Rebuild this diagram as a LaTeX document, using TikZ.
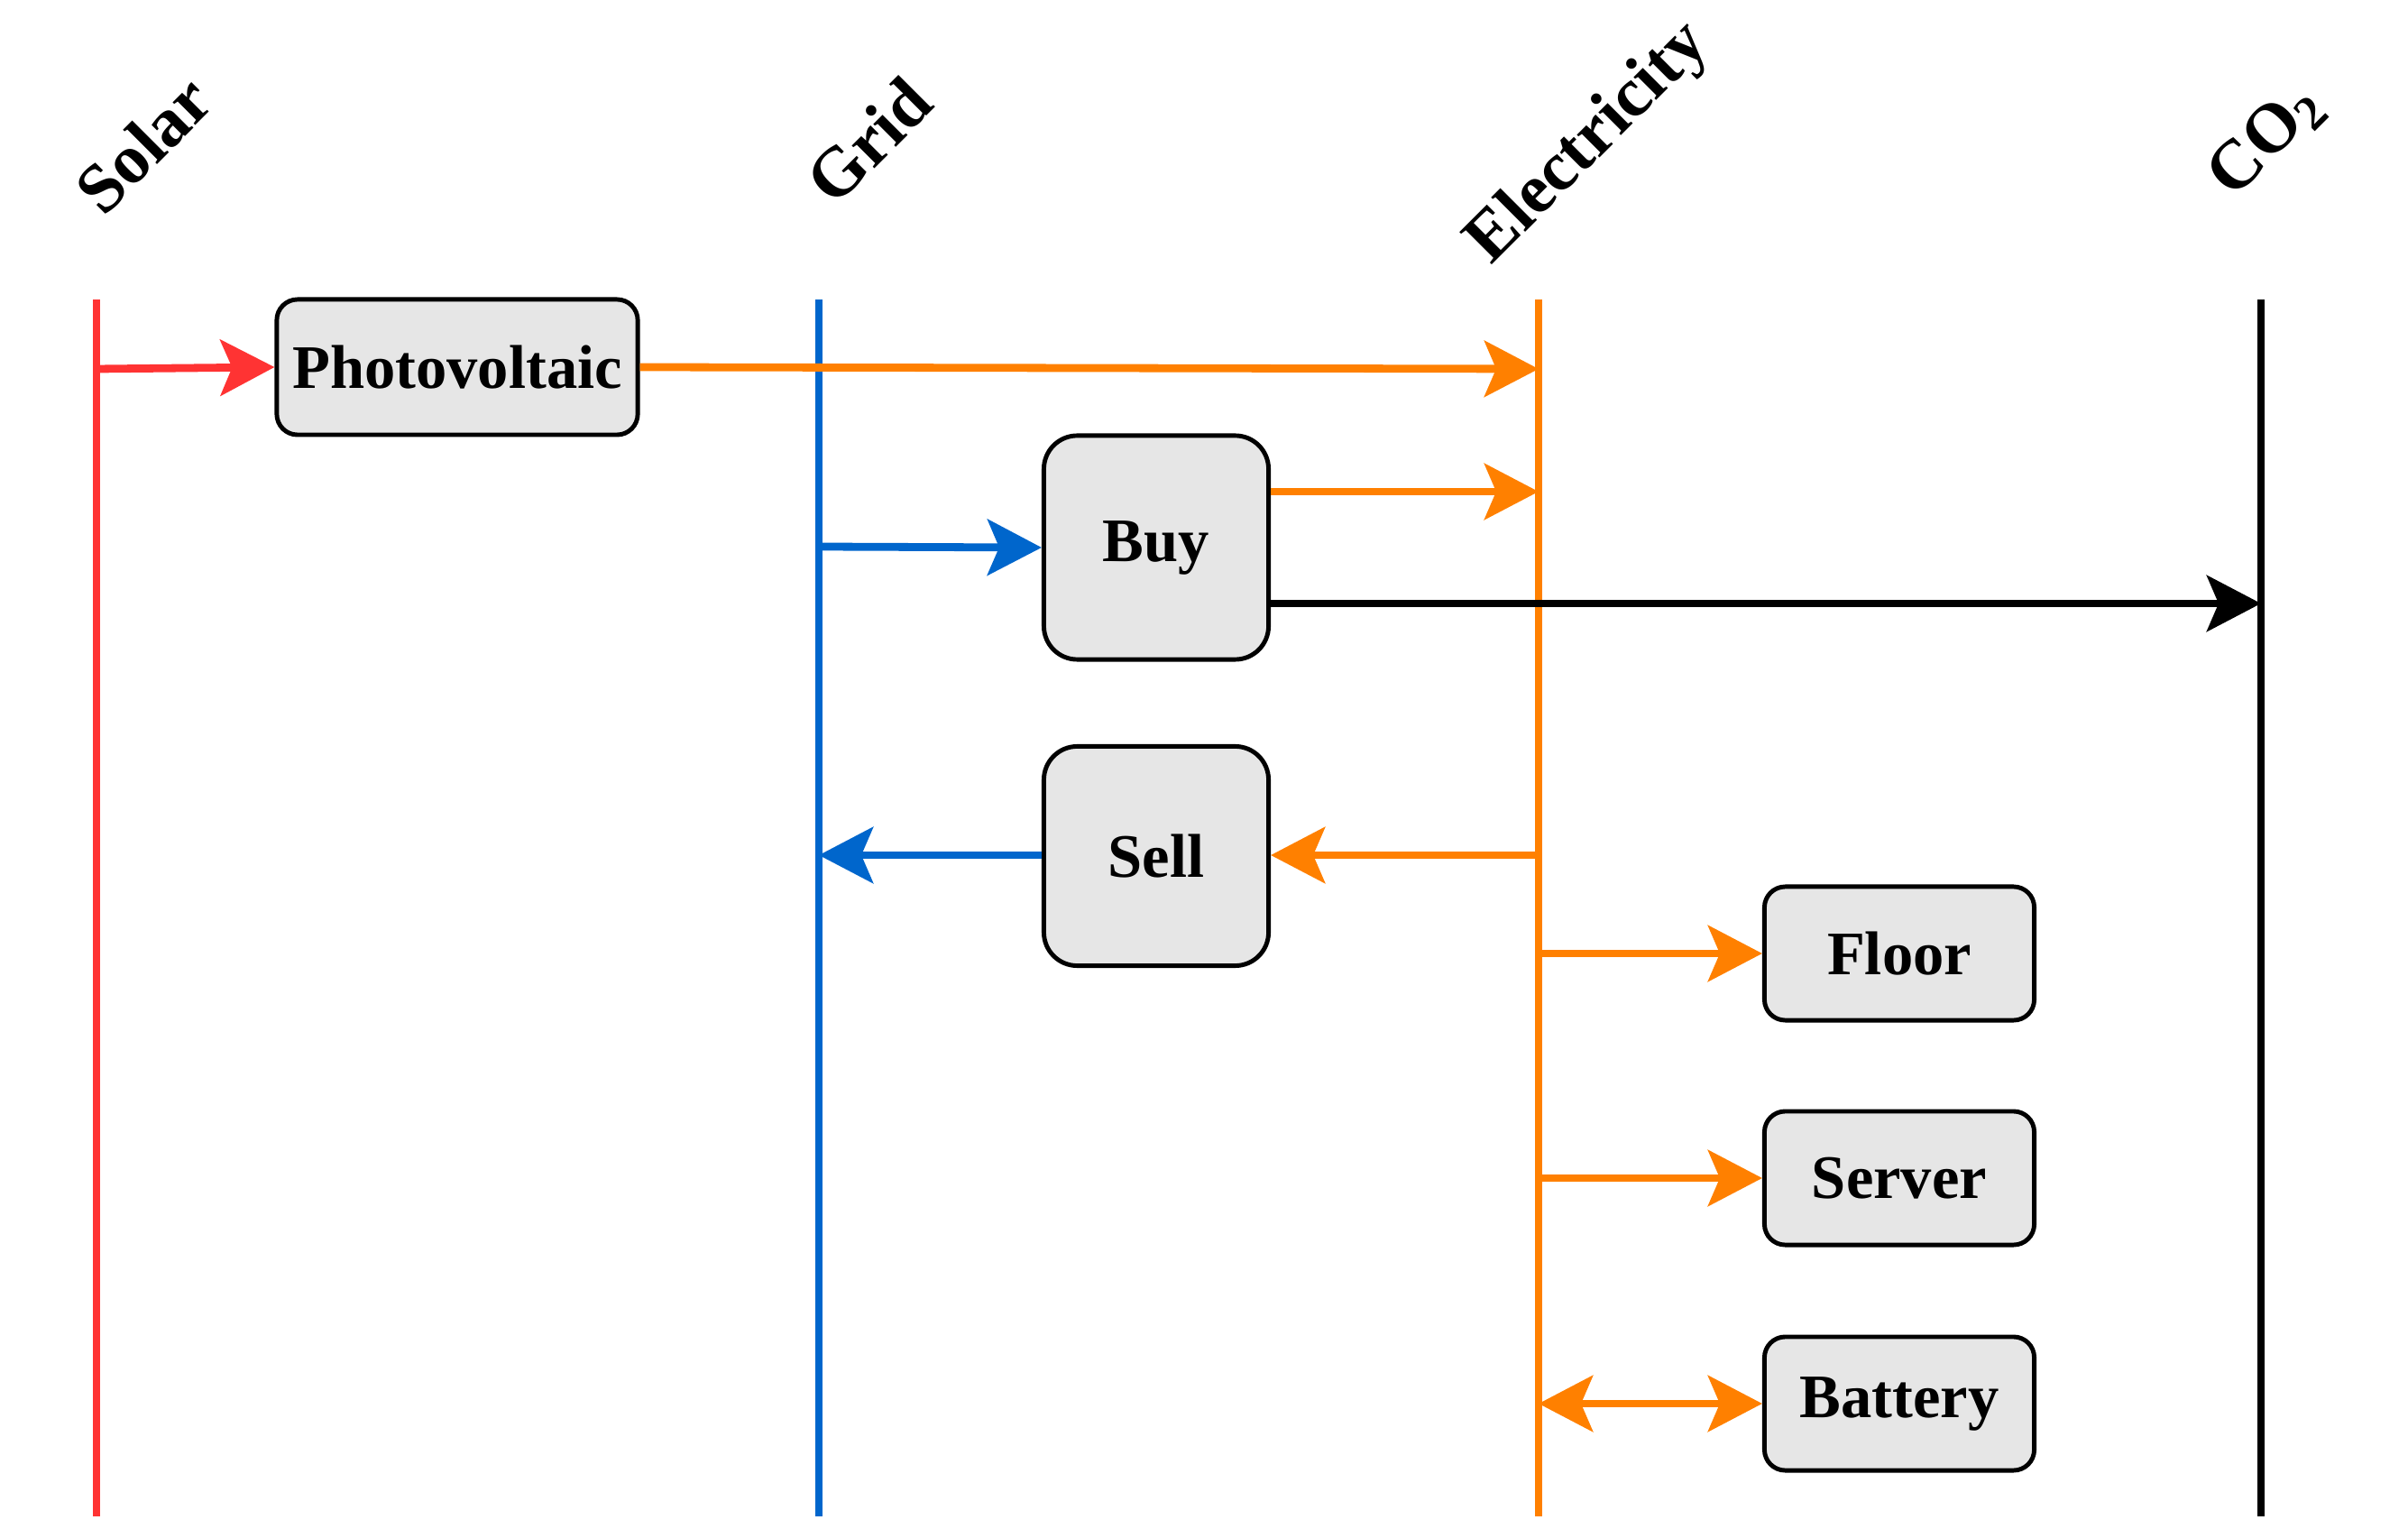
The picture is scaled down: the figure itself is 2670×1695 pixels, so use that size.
\documentclass[tikz,border=0pt]{standalone}
\usepackage{fontspec}
\setmainfont{Liberation Serif}
\usetikzlibrary{arrows.meta}
\definecolor{cred}{HTML}{FF3333}
\definecolor{cblue}{HTML}{0066CC}
\definecolor{corange}{HTML}{FF8000}
\definecolor{boxgray}{HTML}{E6E6E6}
\tikzset{
  box/.style={draw=black, line width=1.4pt, fill=boxgray, inner sep=0pt,
    font=\fontsize{19.5}{22}\selectfont\bfseries},
  widebox/.style={box, rounded corners=0.23cm, minimum width=4cm, minimum height=1.5cm},
  sidebox/.style={box, rounded corners=0.23cm, minimum width=2.99cm, minimum height=1.48cm},
  tallbox/.style={box, rounded corners=0.37cm, minimum width=2.49cm, minimum height=2.48cm},
  lane/.style={line width=2.5pt},
  lanelabel/.style={rotate=45, anchor=center, inner sep=0pt,
    font=\fontsize{22}{26}\selectfont\bfseries},
  flow/.style={line width=2.5pt, -{Stealth[length=0.6cm,width=0.62cm,inset=0.13cm]}},
  bflow/.style={line width=2.5pt, {Stealth[length=0.6cm,width=0.62cm,inset=0.13cm]}-{Stealth[length=0.6cm,width=0.62cm,inset=0.13cm]}}
}
\begin{document}
\begin{tikzpicture}[x=0.01cm,y=-0.01cm]
\useasboundingbox (0,0) rectangle (2670,1695);

% lanes
\coordinate (solT) at (107,332);  \coordinate (solB) at (107,1681);
\coordinate (grdT) at (908,332);  \coordinate (grdB) at (908,1681);
\coordinate (elcT) at (1706,332); \coordinate (elcB) at (1706,1681);
\coordinate (co2T) at (2507,332); \coordinate (co2B) at (2507,1681);
\draw[lane, cred] (solT) -- (solB);
\draw[lane, cblue] (grdT) -- (grdB);
\draw[lane, corange] (elcT) -- (elcB);
\draw[lane, black] (co2T) -- (co2B);

% lane labels
\node[lanelabel] (lsol) at (159,160) {Solar};
\node[lanelabel] (lgrd) at (963,156) {Grid};
\node[lanelabel] (lelc) at (1762,160) {Electricity};
\node[lanelabel] (lco2) at (2513,156) {CO\textsubscript{2}};

% boxes
\node[widebox] (pv) at (507,407) {Photovoltaic};
\node[tallbox] (buy) at (1282,607) {Buy};
\node[tallbox, minimum height=2.43cm] (sell) at (1282,949) {Sell};
\node[sidebox] (floor) at (2106,1057) {Floor};
\node[sidebox] (server) at (2106,1306) {Server};
\node[sidebox] (battery) at (2106,1556) {Battery};

% points on lanes
\coordinate (solPV) at (107,409);
\coordinate (elcPV) at (1706,409);
\coordinate (elcBuy) at (1706,545);
\coordinate (grdBuy) at (908,606);
\coordinate (co2Buy) at (2507,669);
\coordinate (elcSell) at (1706,948);
\coordinate (grdSell) at (908,948);
\coordinate (elcFloor) at (1706,1057);
\coordinate (elcServer) at (1706,1306);
\coordinate (elcBat) at (1706,1556);

% connectors
\draw[flow, cred] (solPV) -- (pv.west);
\draw[flow, corange] (pv.east) -- (elcPV);
\draw[flow, cblue] (grdBuy) -- (buy.west);
\draw[flow, corange] (buy.east |- elcBuy) -- (elcBuy);
\draw[flow, black] (buy.east |- co2Buy) -- (co2Buy);
\draw[flow, corange] (elcSell) -- (sell.east |- elcSell);
\draw[flow, cblue] (sell.west |- grdSell) -- (grdSell);
\draw[flow, corange] (elcFloor) -- (floor.west);
\draw[flow, corange] (elcServer) -- (server.west);
\draw[bflow, corange] (elcBat) -- (battery.west);
\end{tikzpicture}
\end{document}
